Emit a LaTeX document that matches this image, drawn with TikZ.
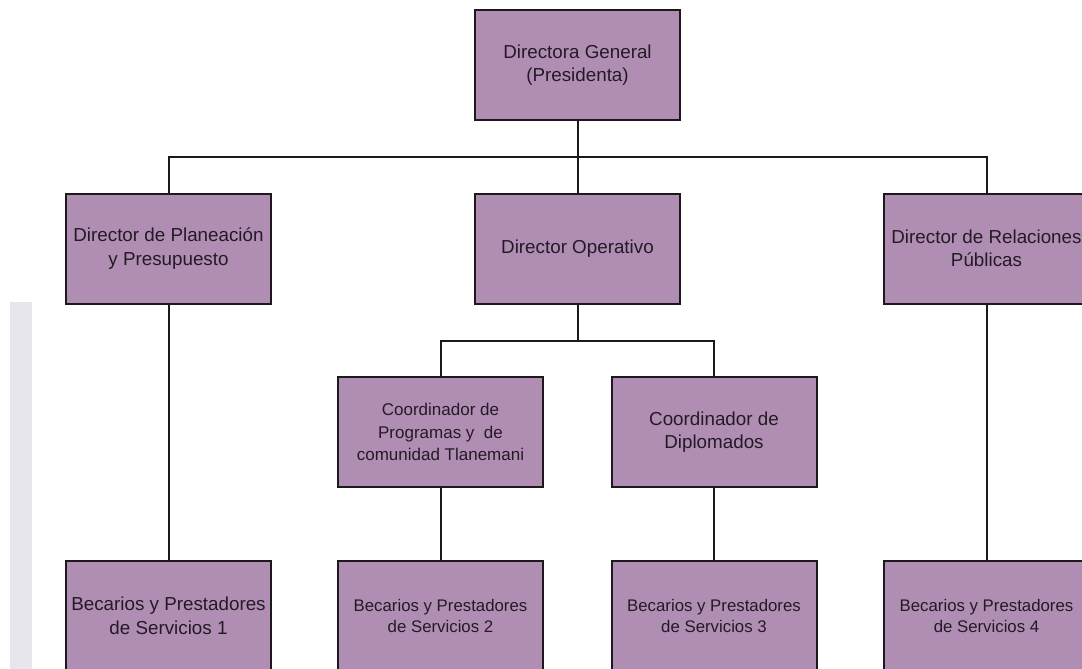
\documentclass[tikz,border=0pt]{standalone}
\usepackage{fontspec}
\setmainfont{Liberation Sans}
\definecolor{boxfill}{RGB}{176,142,180}
\definecolor{boxline}{RGB}{28,24,28}
\definecolor{boxtext}{RGB}{36,26,36}
\definecolor{sidebar}{RGB}{230,230,236}
\begin{document}
\begin{tikzpicture}[x=1pt,y=-1pt,
  unit/.style={draw=boxline, line width=2pt, fill=boxfill, text=boxtext,
    minimum width=205pt, minimum height=110pt, inner sep=0pt,
    align=center, font=\fontsize{18.8}{23.5}\selectfont},
  smallunit/.style={unit, font=\fontsize{16.8}{21.5}\selectfont},
  link/.style={draw=boxline, line width=2pt}]
\useasboundingbox (0,0) rectangle (1082,669);
\clip (0,0) rectangle (1082,669);
\fill[white] (0,0) rectangle (1082,669);
% side strip
\fill[sidebar] (10,302) rectangle (32,669);

% boxes
\node[unit] (dg) at (577.5,65) {Directora General\\(Presidenta)};
\node[unit] (dp) at (168.5,248.5) {Director de Planeación\\y Presupuesto};
\node[unit] (do) at (577.5,248.5) {Director Operativo};
\node[unit] (dr) at (986.5,248.5) {Director de Relaciones\\Públicas};
\node[unit, font=\fontsize{17}{22.5}\selectfont] (cp) at (440.5,432)
  {Coordinador de\\Programas y\ \ de\\comunidad Tlanemani};
\node[unit] (cd) at (714,432) {Coordinador de\\Diplomados};
\node[unit] (b1) at (168.5,616) {Becarios y Prestadores\\de Servicios 1};
\node[smallunit] (b2) at (440.5,616) {Becarios y Prestadores\\de Servicios 2};
\node[smallunit] (b3) at (714,616) {Becarios y Prestadores\\de Servicios 3};
\node[smallunit] (b4) at (986.5,616) {Becarios y Prestadores\\de Servicios 4};

% connectors
\coordinate (bus1) at (577.5,157);
\coordinate (bus2) at (577.5,341);
\draw[link] (dg.south) -- (bus1);
\draw[link] (bus1) -| (dp.north);
\draw[link] (bus1) -| (dr.north);
\draw[link] (bus1) -- (do.north);
\draw[link] (do.south) -- (bus2);
\draw[link] (bus2) -| (cp.north);
\draw[link] (bus2) -| (cd.north);
\draw[link] (dp.south) -- (b1.north);
\draw[link] (cp.south) -- (b2.north);
\draw[link] (cd.south) -- (b3.north);
\draw[link] (dr.south) -- (b4.north);
\end{tikzpicture}
\end{document}
